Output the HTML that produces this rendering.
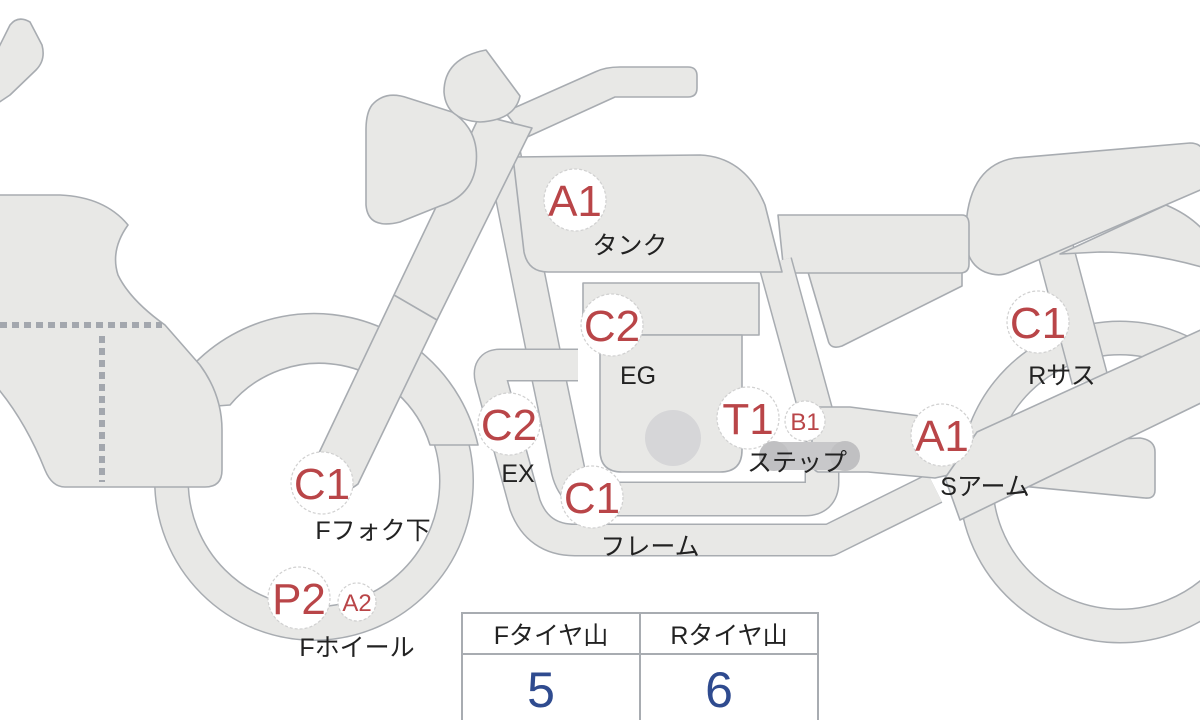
<!DOCTYPE html>
<html><head><meta charset="utf-8"><style>
html,body{margin:0;padding:0;background:#fff}
svg{display:block}
.o{fill:none;stroke:#a8acb1;stroke-linejoin:round}
.f{fill:none;stroke:#e8e8e6;stroke-linejoin:round}
.s{fill:#e8e8e6;stroke:#a8acb1;stroke-width:1.6;stroke-linejoin:round}
.lc{fill:#fff;stroke:#d0d0d0;stroke-width:1.2;stroke-dasharray:3 2}
.lt{font-family:"Liberation Sans Narrow","Liberation Sans",sans-serif;fill:#b94548;text-anchor:middle}
.jp{font-family:"Liberation Sans","Noto Sans CJK JP",sans-serif;fill:#222;font-size:25px;text-anchor:middle}
</style></head><body>
<svg width="1200" height="720" viewBox="0 0 1200 720" xmlns="http://www.w3.org/2000/svg">
<defs>
<path id="bDown" d="M503,150 L545,360 L568,470 Q575,499 605,499 L805,499 Q822,499 822,482 L822,440"/>
<path id="bLoop" d="M578,365 L500,365 Q487,365 491,380 L525,505 Q538,540 575,540 L830,540 L935,488"/>
<path id="bRear" d="M775,262 L825,445"/>
<path id="bShock" d="M1055,248 L1090,380"/>
</defs>

<path class="s" d="M-5,55 L10,25 Q18,15 30,22 L42,45 Q46,60 36,70 L10,95 L-5,105 Z"/>

<circle cx="314" cy="481" r="142.5" fill="none" stroke="#a8acb1" stroke-width="35"/>
<circle cx="314" cy="481" r="142.5" fill="none" stroke="#e8e8e6" stroke-width="32"/>
<circle cx="1120" cy="482" r="144" fill="none" stroke="#a8acb1" stroke-width="35"/>
<circle cx="1120" cy="482" r="144" fill="none" stroke="#e8e8e6" stroke-width="32"/>

<use href="#bShock" class="o" stroke-width="38"/><use href="#bShock" class="f" stroke-width="35"/>

<path class="s" d="M1060,254 L1166,205 Q1190,215 1205,232 L1205,268 Q1150,252 1100,252 Z"/>
<path class="s" d="M985,272 Q962,262 966,225 Q970,165 1015,158 L1190,143 Q1205,143 1205,160 L1205,188 L1008,273 Q998,277 985,272 Z"/>
<path class="s" d="M808,272 L962,272 L962,286 L842,346 Q830,350 828,340 Z"/>
<path class="s" d="M778,215 L962,215 Q969,215 969,225 L969,264 Q969,273 960,273 L784,273 Z"/>

<use href="#bDown" class="o" stroke-width="35"/><use href="#bDown" class="f" stroke-width="32"/>
<use href="#bLoop" class="o" stroke-width="33"/><use href="#bLoop" class="f" stroke-width="30"/>
<use href="#bRear" class="o" stroke-width="35"/><use href="#bRear" class="f" stroke-width="32"/>

<path class="s" d="M513,157 L700,155 Q745,157 765,205 L782,272 L548,272 Q528,272 524,252 Z"/>

<path class="s" d="M812,407 L850,407 L920,416 L962,422 L962,472 L935,478 L868,472 L818,472 Q812,470 812,460 Z"/>
<path class="s" d="M1000,445 L1140,438 Q1155,440 1155,452 L1155,490 Q1155,499 1145,498 L1010,485 Z"/>
<path class="s" d="M945,478 L977,432 L1205,328 L1205,401 L960,520 Z"/>

<rect class="s" x="583" y="283" width="176" height="52"/>
<path class="s" d="M600,335 L742,335 L742,450 Q742,472 720,472 L622,472 Q600,472 600,450 Z"/>
<circle cx="673" cy="438" r="28" fill="#d6d6d8"/>

<path class="s" d="M505,112 L595,72 Q605,67 620,67 L688,67 Q697,67 697,76 L697,88 Q697,97 688,97 L615,97 L525,138 Z"/>

<path class="s" d="M162,410 A168 168 0 0 1 478,445 L430,445 A116 116 0 0 0 230,405 Z"/>

<path class="s" d="M480,115 L532,128 L437,320 L358,484 Q345,495 325,488 L318,455 L394,295 Z"/>
<line x1="394" y1="295" x2="437" y2="320" stroke="#a8acb1" stroke-width="1.6"/>

<path class="s" d="M444,92 Q444,58 486,50 L520,96 Q515,120 480,122 Q446,120 444,92 Z"/>
<path class="s" d="M372,105 Q385,90 408,98 L452,112 Q480,130 476,165 Q472,196 440,206 L400,222 Q368,230 366,205 L366,130 Q366,113 372,105 Z"/>

<path class="s" d="M-5,195 L60,195 Q105,197 128,225 Q110,250 118,275 Q130,300 165,325 L200,365 Q222,395 222,430 L222,470 Q222,487 205,487 L65,487 Q52,487 45,470 Q25,420 -5,385 Z"/>
<line x1="0" y1="325" x2="162" y2="325" stroke="#a3a7ae" stroke-width="6" stroke-dasharray="7 5"/>
<line x1="102" y1="336" x2="102" y2="482" stroke="#a3a7ae" stroke-width="6" stroke-dasharray="7 5"/>

<rect x="774" y="442" width="71" height="28" fill="#c8c8ca"/>
<circle cx="774" cy="456" r="15" fill="#c0c0c2"/>
<circle cx="845" cy="456" r="15" fill="#c0c0c2"/>

<g>
<circle class="lc" cx="575" cy="200" r="31"/><text class="lt" x="575" y="216" font-size="44">A1</text>
<circle class="lc" cx="612" cy="325" r="31"/><text class="lt" x="612" y="341" font-size="44">C2</text>
<circle class="lc" cx="509" cy="424" r="31"/><text class="lt" x="509" y="440" font-size="44">C2</text>
<circle class="lc" cx="592" cy="497" r="31"/><text class="lt" x="592" y="513" font-size="44">C1</text>
<circle class="lc" cx="748" cy="418" r="31"/><text class="lt" x="748" y="434" font-size="44">T1</text>
<circle class="lc" cx="805" cy="421" r="20"/><text class="lt" x="805" y="430" font-size="24">B1</text>
<circle class="lc" cx="942" cy="435" r="31"/><text class="lt" x="942" y="451" font-size="44">A1</text>
<circle class="lc" cx="1038" cy="322" r="31"/><text class="lt" x="1038" y="338" font-size="44">C1</text>
<circle class="lc" cx="322" cy="483" r="31"/><text class="lt" x="322" y="499" font-size="44">C1</text>
<circle class="lc" cx="299" cy="598" r="31"/><text class="lt" x="299" y="614" font-size="44">P2</text>
<circle class="lc" cx="357" cy="602" r="19"/><text class="lt" x="357" y="611" font-size="24">A2</text>
</g>
<text class="jp" x="630" y="254">タンク</text>
<text class="jp" x="638" y="384">EG</text>
<text class="jp" x="518" y="482">EX</text>
<text class="jp" x="650" y="555">フレーム</text>
<text class="jp" x="797" y="471">ステップ</text>
<text class="jp" x="985" y="495">Sアーム</text>
<text class="jp" x="1062" y="384">Rサス</text>
<text class="jp" x="373" y="539">Fフォク下</text>
<text class="jp" x="357" y="656">Fホイール</text>

<rect x="462" y="613" width="356" height="110" fill="#fff" stroke="#a8acb1" stroke-width="2"/>
<line x1="462" y1="654" x2="818" y2="654" stroke="#a8acb1" stroke-width="2"/>
<line x1="640" y1="613" x2="640" y2="720" stroke="#a8acb1" stroke-width="2"/>
<text class="jp" x="551" y="644">Fタイヤ山</text>
<text class="jp" x="729" y="644">Rタイヤ山</text>
<text x="541" y="707" font-family="Liberation Sans Narrow, Liberation Sans, sans-serif" font-size="50" fill="#2f4b8f" text-anchor="middle">5</text>
<text x="719" y="707" font-family="Liberation Sans Narrow, Liberation Sans, sans-serif" font-size="50" fill="#2f4b8f" text-anchor="middle">6</text>
</svg>
</body></html>
